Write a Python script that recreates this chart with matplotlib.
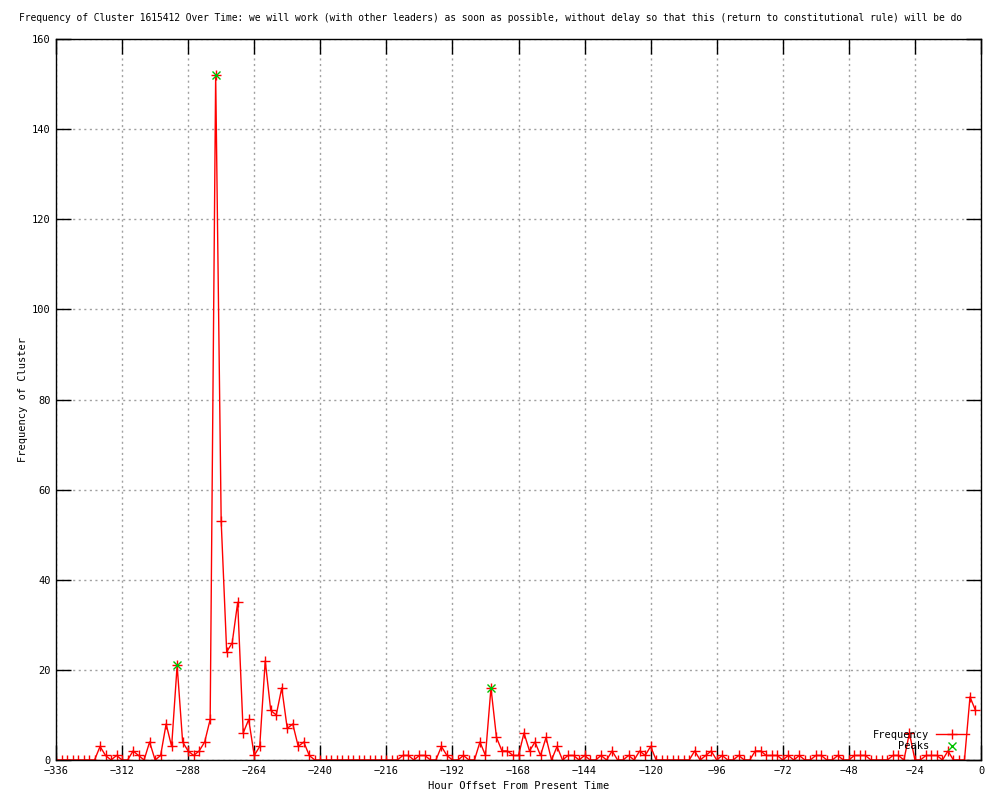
import numpy as np
import matplotlib
matplotlib.use("Agg")
import matplotlib.pyplot as plt

# hour offsets, one reading every 2 hours
hours = np.arange(-336, 0, 2)
freq = [0, 0, 0, 0, 0, 0, 0, 0, 3, 1, 0, 1, 0, 0, 2, 1, 0, 4, 0, 1,
        8, 3, 21, 4, 2, 1, 2, 4, 9, 152, 53, 24, 26, 35, 6, 9, 1, 3, 22, 11,
        10, 16, 7, 8, 3, 4, 1, 0, 0, 0, 0, 0, 0, 0, 0, 0, 0, 0, 0, 0,
        0, 0, 0, 1, 1, 0, 1, 1, 0, 0, 3, 1, 0, 0, 1, 0, 0, 4, 1, 16,
        5, 2, 2, 1, 1, 6, 2, 4, 1, 5, 0, 3, 0, 1, 1, 0, 1, 0, 0, 1,
        0, 2, 0, 0, 1, 0, 2, 1, 3, 0, 0, 0, 0, 0, 0, 0, 2, 0, 1, 2,
        0, 1, 0, 0, 1, 0, 0, 2, 2, 1, 1, 1, 0, 1, 0, 1, 0, 0, 1, 1,
        0, 0, 1, 0, 0, 1, 1, 1, 0, 0, 0, 0, 1, 1, 0, 6, 0, 0, 1, 1,
        1, 0, 2, 0, 0, 0, 14, 11]

peak_hours = [-292, -278, -178]
peak_freq = [21, 152, 16]

# the title is cut off at the right edge in the original
title = ("Frequency of Cluster 1615412 Over Time: we will work (with other leaders) "
         "as soon as possible, without delay so that this (return to constitutional rule) "
         "will be do")

plt.rcParams['font.family'] = 'DejaVu Sans Mono'
plt.rcParams['font.size'] = 7.5

fig = plt.figure(figsize=(10, 8), dpi=100)
ax = fig.add_axes([0.056, 0.05, 0.925, 0.901])

ax.plot(hours, freq, color='red', linewidth=1, marker='+', markersize=7,
        markeredgewidth=1, label='Frequency')
ax.plot(peak_hours, peak_freq, linestyle='none', color='#00c000', marker='x',
        markersize=6, markeredgewidth=1, label='Peaks')

ax.set_xlim(-336, 0)
ax.set_ylim(0, 160)
ax.set_xticks(range(-336, 1, 24))
ax.set_yticks(range(0, 161, 20))
ax.tick_params(direction='in', length=11, width=1, top=True, right=True,
               labelsize=7.5, pad=4)
ax.grid(True, color='#a0a0a0', linestyle=(0, (1.5, 2.5)), linewidth=1)
for s in ax.spines.values():
    s.set_linewidth(1)
    s.set_color('black')

ax.set_xlabel("Hour Offset From Present Time", labelpad=4)
ax.set_ylabel("Frequency of Cluster", labelpad=3)
fig.text(0.019, 0.978, title, ha='left', va='center', fontsize=6.95)

ax.legend(loc='lower right', bbox_to_anchor=(0.995, 0.002), frameon=False,
          markerfirst=False, handlelength=3.2, handletextpad=0.6,
          labelspacing=0.15, borderpad=0.2)

fig.savefig("out.png", dpi=100)
